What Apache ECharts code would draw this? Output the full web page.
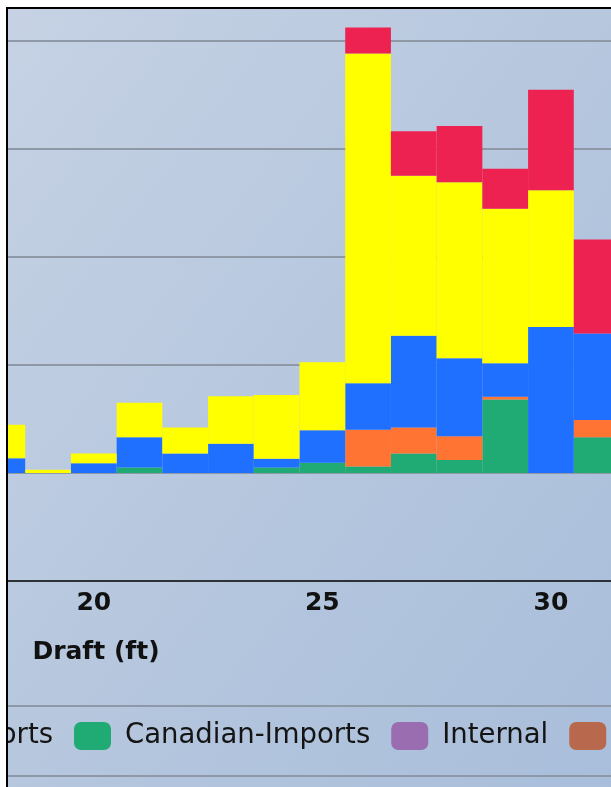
<!DOCTYPE html>
<html>
<head>
<meta charset="utf-8">
<script src="https://cdn.jsdelivr.net/npm/echarts@6/dist/echarts.min.js"></script>
<style>
  html, body { margin: 0; padding: 0; background: #ffffff; width: 611px; height: 787px; overflow: hidden; }
  #frame {
    position: absolute; left: 6px; top: 7px; width: 603px; height: 778px;
    border-left: 2px solid #000; border-top: 2px solid #000;
    background: linear-gradient(to bottom right, #c6d2e4 0%, #b6c7de 50%, #a9bedb 100%);
  }
  #chart { width: 603px; height: 778px; }
</style>
</head>
<body>
<div id="frame"><div id="chart"></div></div>
<script>
// ---- data (values in y units; one gridline step = 100) ----
const drafts = ['18', '19', '20', '21', '22', '23', '24', '25', '26', '27', '28', '29', '30', '31'];
const canadianImports = [0, 0, 0, 5, 0, 0, 5, 9.5, 6, 18, 12, 68, 0, 33];
const canadianExports = [0, 0, 0, 0, 0, 0, 0, 0, 34, 24, 22, 2.5, 0, 16];
const foreignExports = [13.5, 0, 9, 28, 18, 27, 8, 30, 43, 85, 72, 31, 135, 80];
const foreignImports = [31, 3, 9, 32, 24, 44, 59, 63, 305, 148, 163, 143, 126.5, 0];
const coastwise = [0, 0, 0, 0, 0, 0, 0, 0, 24, 41, 52, 37, 93, 87];
const internal = [0, 0, 0, 0, 0, 0, 0, 0, 0, 0, 0, 0, 0, 0];
const intraport = [0, 0, 0, 0, 0, 0, 0, 0, 0, 0, 0, 0, 0, 0];
const xTickLabels = ['20', '25', '30'];
const legendNames = ['Foreign-Imports', 'Foreign-Exports', 'Canadian-Exports', 'Canadian-Imports', 'Internal', 'Intraport', 'Coastwise'];

// ---- layout ----
const legendFont = '27.5px "DejaVu Sans"';
const swatchW = 37, swatchH = 28, textPadL = 9, itemGap = 21;
const ctx = document.createElement('canvas').getContext('2d');
ctx.font = legendFont;
// place the "Canadian-Imports" swatch at x = 66 (container coords)
let legendLeft = 66;
for (let i = 0; i < legendNames.indexOf('Canadian-Imports'); i++) {
  legendLeft -= swatchW + 5 + textPadL + ctx.measureText(legendNames[i]).width + itemGap;
}

const chart = echarts.init(document.getElementById('chart'), null, { renderer: 'canvas' });

function barSeries(name, data, color) {
  return {
    name: name, type: 'bar', stack: 'total', data: data,
    barWidth: '100%', barGap: '0%', barCategoryGap: '0%',
    itemStyle: { color: color },
    emphasis: { disabled: true },
    animation: false
  };
}

chart.setOption({
  backgroundColor: 'transparent',
  animation: false,
  grid: { left: -28.5, width: 640, top: -76.5, height: 648.5, containLabel: false, outerBoundsMode: 'none' },
  xAxis: {
    type: 'category', data: drafts, boundaryGap: true,
    axisLine: { onZero: false, lineStyle: { color: '#2e3136', width: 2 } },
    axisTick: {
      alignWithLabel: true, length: 10, lineStyle: { color: '#d3d9e1', width: 1 },
      interval: function (i, v) { return xTickLabels.indexOf(v) >= 0; }
    },
    axisLabel: {
      interval: function (i, v) { return xTickLabels.indexOf(v) >= 0; },
      margin: 10, color: '#111', fontFamily: 'DejaVu Sans', fontWeight: 'bold', fontSize: 25
    },
    splitLine: { show: false }
  },
  yAxis: {
    type: 'value', min: -100, max: 500, interval: 100,
    axisLine: { show: false }, axisTick: { show: false }, axisLabel: { show: false },
    splitLine: { show: true, lineStyle: { color: '#8e98a6', width: 2 } }
  },
  legend: {
    data: legendNames,
    left: legendLeft, top: 713, width: 4000, padding: 0,
    itemWidth: swatchW, itemHeight: swatchH, itemGap: itemGap,
    icon: 'roundRect',
    selectedMode: false,
    textStyle: { fontFamily: 'DejaVu Sans', fontSize: 27.5, color: '#141414', lineHeight: 28, padding: [0, 0, 0, textPadL] }
  },
  series: [
    barSeries('Canadian-Imports', canadianImports, '#1fab73'),
    barSeries('Canadian-Exports', canadianExports, '#ff7433'),
    barSeries('Foreign-Exports', foreignExports, '#2070ff'),
    barSeries('Foreign-Imports', foreignImports, '#ffff00'),
    barSeries('Coastwise', coastwise, '#ee2251'),
    barSeries('Internal', internal, '#9a6db0'),
    barSeries('Intraport', intraport, '#b8684d')
  ],
  graphic: [
    { type: 'text', x: 88, y: 643, silent: true,
      style: { text: 'Draft (ft)', font: 'bold 25px "DejaVu Sans"', fill: '#111', align: 'center', verticalAlign: 'middle' } },
    { type: 'line', silent: true, shape: { x1: 0, y1: 697, x2: 603, y2: 697 }, style: { stroke: '#8e98a6', lineWidth: 2 } },
    { type: 'line', silent: true, shape: { x1: 0, y1: 767, x2: 603, y2: 767 }, style: { stroke: '#8e98a6', lineWidth: 2 } }
  ]
});
</script>
</body>
</html>
